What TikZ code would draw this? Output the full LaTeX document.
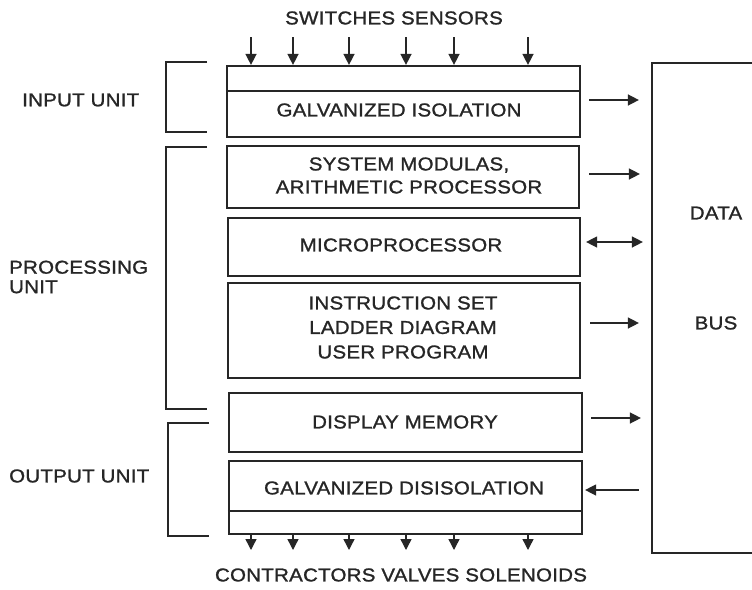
\documentclass[tikz,border=0pt]{standalone}
\usepackage{fontspec}
\setmainfont{Liberation Sans}[FakeStretch=1.1, LetterSpace=1.5, FakeBold=1.2]
\usetikzlibrary{arrows.meta,calc}
\definecolor{ink}{HTML}{262626}
\begin{document}
\begin{tikzpicture}[x=1pt,y=-1pt,
  every node/.style={font=\fontsize{18.6}{23}\selectfont, text=ink, inner sep=0pt},
  box/.style={draw=ink, line width=2.2pt, rectangle},
  brk/.style={draw=ink, line width=1.6pt},
  tip/.tip={Triangle[length=11pt,width=11pt]},
  arr/.style={draw=ink, line width=1.4pt, -tip},
  darr/.style={draw=ink, line width=1.4pt, tip-tip},
  lbl/.style={anchor=west, align=left}]
\useasboundingbox (0,0) rectangle (752,589);
\fill[white] (0,0) rectangle (752,589);

% unit boxes
\node[box, minimum width=353, minimum height=71] (inp) at (403.5,101.5) {};
\node[box, minimum width=352, minimum height=62] (sys) at (403,177) {};
\node[box, minimum width=352, minimum height=58] (mic) at (404,247) {};
\node[box, minimum width=352, minimum height=95] (ins) at (404,330.5) {};
\node[box, minimum width=353, minimum height=59] (dsp) at (405.5,422.5) {};
\node[box, minimum width=353, minimum height=73] (out) at (405.5,497.5) {};
\node[box, minimum width=130, minimum height=490] (bus) at (717,308) {};

% inner dividers
\draw[ink, line width=1.6pt] (inp.west |- 0,91) -- (inp.east |- 0,91);
\draw[ink, line width=1.6pt] (out.west |- 0,511) -- (out.east |- 0,511);

% box texts
\node (tinp) at (399,110) {GALVANIZED ISOLATION};
\node[align=center] (tsys) at (409,175.5) {SYSTEM MODULAS,\\ARITHMETIC PROCESSOR};
\node (tmic) at (401,245) {MICROPROCESSOR};
\node[align=center, font=\fontsize{18.6}{24.5}\selectfont] (tins) at (403,327.5) {INSTRUCTION SET\\LADDER DIAGRAM\\USER PROGRAM};
\node (tdsp) at (405,422) {DISPLAY MEMORY};
\node (tout) at (404,488) {GALVANIZED DISISOLATION};
\node (tdata) at (716,213) {DATA};
\node (tbus) at (716,323) {BUS};

% top and bottom texts
\node (tsw) at (394,18) {SWITCHES SENSORS};
\node (tct) at (401,575) {CONTRACTORS VALVES SOLENOIDS};

% left labels
\node[lbl] (linp) at (22,100) {INPUT UNIT};
\node[lbl, font=\fontsize{18.6}{19.5}\selectfont] (lpro) at (9,277) {PROCESSING\\UNIT};
\node[lbl] (lout) at (9,476) {OUTPUT UNIT};

% brackets
\coordinate (bi1) at (207,62);  \coordinate (bi2) at (207,132);
\coordinate (bp1) at (207,147); \coordinate (bp2) at (207,409);
\coordinate (bo1) at (209,423); \coordinate (bo2) at (209,536);
\draw[brk] (bi1) -- (166,62) -- (166,132) -- (bi2);
\draw[brk] (bp1) -- (166,147) -- (166,409) -- (bp2);
\draw[brk] (bo1) -- (168,423) -- (168,536) -- (bo2);

% signal arrows in and out
\foreach \x in {251,293,349,406,454,528}{
  \coordinate (sin) at (\x,37);
  \coordinate (sout) at (\x,550);
  \draw[arr] (sin) -- (sin |- inp.north);
  \draw[arr] (sout |- out.south) -- (sout);
}

% links to the data bus
\draw[arr]  ($(inp.east)+(8,-1.5)$) -- ($(bus.west |- inp.east)+(-12,-1.5)$);
\draw[arr]  ($(sys.east)+(9,-3)$)   -- ($(bus.west |- sys.east)+(-11,-3)$);
\draw[darr] ($(mic.east)+(5,-5)$)   -- ($(bus.west |- mic.east)+(-8,-5)$);
\draw[arr]  ($(ins.east)+(9,-7.5)$) -- ($(bus.west |- ins.east)+(-12,-7.5)$);
\draw[arr]  ($(dsp.east)+(8,-4.5)$) -- ($(bus.west |- dsp.east)+(-10,-4.5)$);
\draw[arr]  ($(bus.west |- out.east)+(-12,-7.5)$) -- ($(out.east)+(2,-7.5)$);
\end{tikzpicture}
\end{document}
